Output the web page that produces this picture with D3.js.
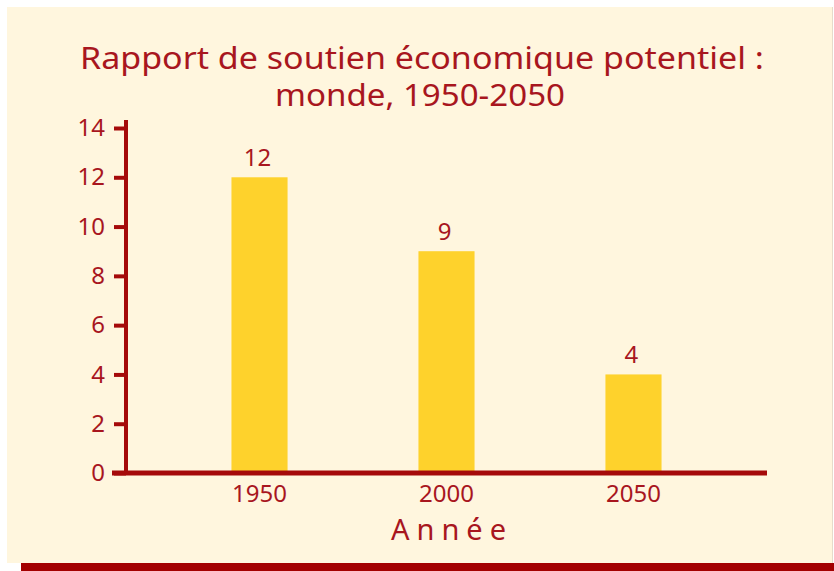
<!DOCTYPE html>
<html>
<head>
<meta charset="utf-8">
<script src="https://cdn.jsdelivr.net/npm/d3@7"></script>
<style>
  html, body { margin: 0; padding: 0; background: #ffffff; }
  svg { display: block; font-family: "Noto Sans", "Open Sans", sans-serif; }
</style>
</head>
<body>
<div id="chart-container"></div>
<script>
// Chart data
const years = ['1950', '2000', '2050']
const ratios = [12, 9, 4]
const yTicks = [0, 2, 4, 6, 8, 10, 12, 14]
const titleLines = ['Rapport de soutien économique potentiel :', 'monde, 1950-2050']
const xLabel = 'Année'

const width = 834
const height = 571
const red = '#a50a0a'
const textRed = '#a8161e'

const svg = d3.select('#chart-container')
    .append('svg')
    .attr('width', width)
    .attr('height', height)

// Panel background + bottom band
svg.append('rect')
    .attr('x', 7).attr('y', 7)
    .attr('width', 826).attr('height', 556)
    .attr('fill', '#fff6de')
svg.append('line')
    .attr('x1', 832.5).attr('x2', 832.5)
    .attr('y1', 7).attr('y2', 563)
    .attr('stroke', '#e6dccb').attr('stroke-width', 1)
svg.append('rect')
    .attr('x', 21).attr('y', 563)
    .attr('width', 813).attr('height', 8)
    .attr('fill', '#a30000')

// Title
const title = svg.append('text')
    .attr('text-anchor', 'middle')
    .attr('fill', textRed)
    .style('font-size', '30px')
title.append('tspan').attr('x', 422).attr('y', 69)
    .attr('textLength', 684).attr('lengthAdjust', 'spacingAndGlyphs')
    .text(titleLines[0])
title.append('tspan').attr('x', 420).attr('y', 106)
    .attr('textLength', 290).attr('lengthAdjust', 'spacingAndGlyphs')
    .text(titleLines[1])

// Scales
const x = d3.scaleBand()
    .domain(years)
    .range([126, 767])
    .paddingInner(0.7)
    .paddingOuter(0.564)

const y = d3.scaleLinear()
    .domain([0, 14])
    .range([473, 128])

// Bars
svg.selectAll('.bar')
    .data(years)
    .enter()
    .append('rect')
    .attr('class', 'bar')
    .attr('x', d => x(d))
    .attr('y', (d, i) => y(ratios[i]))
    .attr('width', x.bandwidth())
    .attr('height', (d, i) => y(0) - y(ratios[i]))
    .attr('fill', '#fed22c')

// Value labels
svg.selectAll('.value')
    .data(years)
    .enter()
    .append('text')
    .attr('class', 'value')
    .attr('x', d => x(d) + x.bandwidth() / 2 - 2)
    .attr('y', (d, i) => y(ratios[i]) - 11)
    .attr('text-anchor', 'middle')
    .attr('fill', textRed)
    .style('font-size', '24px')
    .text((d, i) => ratios[i])

// Y axis
const yAxis = svg.append('g')
    .attr('transform', 'translate(126,0)')
    .call(d3.axisLeft(y).tickValues(yTicks).tickSize(12).tickPadding(9))
yAxis.select('.domain').remove()
yAxis.selectAll('.tick line').attr('stroke', red).attr('stroke-width', 4)
yAxis.selectAll('.tick text')
    .attr('fill', textRed)
    .style('font-size', '24px')
    .style('font-family', '"Noto Sans", sans-serif')
svg.append('line')
    .attr('x1', 126).attr('x2', 126)
    .attr('y1', y(14) - 8).attr('y2', y(0))
    .attr('stroke', red).attr('stroke-width', 4)

// X axis
const xAxis = svg.append('g')
    .attr('transform', 'translate(0,' + y(0) + ')')
    .call(d3.axisBottom(x).tickSize(0).tickPadding(12))
xAxis.select('.domain').remove()
xAxis.selectAll('.tick text')
    .attr('fill', textRed)
    .style('font-size', '24px')
    .style('font-family', '"Noto Sans", sans-serif')
svg.append('line')
    .attr('x1', 112).attr('x2', 767)
    .attr('y1', y(0)).attr('y2', y(0))
    .attr('stroke', red).attr('stroke-width', 5)

// Axis title
svg.append('text')
    .attr('x', 452)
    .attr('y', 540)
    .attr('text-anchor', 'middle')
    .attr('fill', textRed)
    .style('font-size', '29px')
    .style('letter-spacing', '7px')
    .text(xLabel)
</script>
</body>
</html>
